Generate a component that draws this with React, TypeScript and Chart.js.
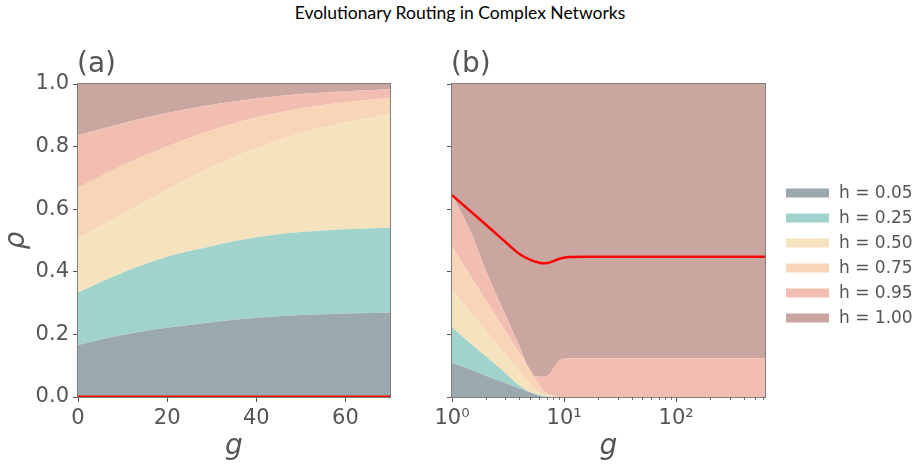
import React, { useEffect, useRef } from 'react';
import { Chart, registerables } from 'chart.js';
Chart.register(...registerables);

// ---------- data ----------
const hLabels = ['h = 0.05', 'h = 0.25', 'h = 0.50', 'h = 0.75', 'h = 0.95', 'h = 1.00'];
const bandColors = ['#9BA9AF', '#A0D3CC', '#F5E3BD', '#F9D5B8', '#F3BEB2', '#C9A6A0'];

// panel (a): g (linear), cumulative upper boundary of each h band
const gA = [0, 10, 20, 30, 40, 50, 60, 70];
const a005 = [0.166, 0.198, 0.221, 0.239, 0.253, 0.262, 0.267, 0.270];
const a025 = [0.334, 0.397, 0.448, 0.482, 0.510, 0.527, 0.536, 0.541];
const a050 = [0.506, 0.585, 0.662, 0.735, 0.795, 0.843, 0.877, 0.903];
const a075 = [0.668, 0.740, 0.800, 0.852, 0.893, 0.922, 0.942, 0.955];
const a095 = [0.836, 0.875, 0.907, 0.934, 0.954, 0.968, 0.977, 0.983];
const a100 = [1, 1, 1, 1, 1, 1, 1, 1];
const aRed = [0, 0, 0, 0, 0, 0, 0, 0];

// panel (b): g (log), cumulative upper boundary of each h band
const gB = [1, 1.5, 2, 3, 4, 5, 5.5, 6, 6.7, 7, 7.5, 8, 9, 10, 11, 15, 30, 100, 300, 620];
const b005 = [0.110, 0.086, 0.068, 0.045, 0.028, 0.014, 0.008, 0.003, 0.001, 0, 0, 0, 0, 0, 0, 0, 0, 0, 0, 0];
const b025 = [0.223, 0.168, 0.130, 0.076, 0.036, 0.015, 0.010, 0.006, 0.003, 0.002, 0.001, 0, 0, 0, 0, 0, 0, 0, 0, 0];
const b050 = [0.342, 0.266, 0.212, 0.135, 0.081, 0.038, 0.024, 0.012, 0.006, 0.004, 0.002, 0.001, 0, 0, 0, 0, 0, 0, 0, 0];
const b075 = [0.480, 0.380, 0.310, 0.210, 0.138, 0.086, 0.060, 0.038, 0.018, 0.012, 0.006, 0.003, 0, 0, 0, 0, 0, 0, 0, 0];
const b095 = [0.645, 0.520, 0.404, 0.262, 0.161, 0.081, 0.066, 0.065, 0.065, 0.066, 0.075, 0.090, 0.115, 0.122, 0.124, 0.124, 0.124, 0.124, 0.124, 0.124];
const b100 = [1, 1, 1, 1, 1, 1, 1, 1, 1, 1, 1, 1, 1, 1, 1, 1, 1, 1, 1, 1];
const bRed = [0.645, 0.590, 0.551, 0.495, 0.457, 0.438, 0.433, 0.429, 0.427, 0.428, 0.430, 0.434, 0.441, 0.445, 0.447, 0.448, 0.448, 0.448, 0.448, 0.448];

const yTicks = [0, 0.2, 0.4, 0.6, 0.8, 1.0];
const xTicksA = [0, 20, 40, 60];

// ---------- styles ----------
const GRAY = '#555555';
const FONT = 'DejaVu Sans';
const tickFont = { family: FONT, size: 21 };
const titleFont = { family: FONT, size: 28, style: 'italic' as const };

const isPow10 = (v: number) => Math.abs(Math.log10(v) - Math.round(Math.log10(v))) < 1e-9;
const sup: Record<string, string> = { '0': '⁰', '1': '¹', '2': '²', '3': '³', '-': '⁻' };

function bands(xs: number[], series: number[][]) {
  return series.map((ys, i) => ({
    label: hLabels[i],
    data: xs.map((x, j) => ({ x, y: ys[j] })),
    backgroundColor: bandColors[i],
    borderColor: 'rgba(0,0,0,0)',
    borderWidth: 0,
    pointRadius: 0,
    fill: i === 0 ? 'origin' : '-1',
    cubicInterpolationMode: 'monotone' as const,
    order: 1,
  }));
}

const framePlugin = {
  id: 'frame',
  beforeDatasetsDraw(chart: any) {
    const { ctx, chartArea: a } = chart;
    ctx.save();
    ctx.strokeStyle = '#7f7f7f';
    ctx.lineWidth = 1;
    ctx.strokeRect(a.left - 0.5, a.top - 0.5, a.right - a.left + 1, a.bottom - a.top + 1);
    ctx.restore();
  },
};

function panelLabel(text: string) {
  return {
    id: 'panelLabel',
    afterDraw(chart: any) {
      const { ctx, chartArea: a } = chart;
      ctx.save();
      ctx.fillStyle = GRAY;
      ctx.font = `28px "${FONT}"`;
      ctx.textAlign = 'left';
      ctx.textBaseline = 'alphabetic';
      ctx.fillText(text, a.left - 1, 72);
      ctx.restore();
    },
  };
}

const minorTicksPlugin = {
  id: 'minorTicks',
  afterDraw(chart: any) {
    const { ctx, chartArea: a } = chart;
    const sx = chart.scales.x;
    ctx.save();
    ctx.strokeStyle = GRAY;
    ctx.lineWidth = 0.8;
    sx.ticks.forEach((t: any) => {
      if (isPow10(t.value)) return;
      const px = Math.round(sx.getPixelForValue(t.value)) + 0.5;
      ctx.beginPath();
      ctx.moveTo(px, a.bottom);
      ctx.lineTo(px, a.bottom + 3);
      ctx.stroke();
    });
    ctx.restore();
  },
};

const legendPlugin = {
  id: 'customLegend',
  afterDraw(chart: any) {
    const { ctx } = chart;
    ctx.save();
    ctx.font = `17px "${FONT}"`;
    ctx.textBaseline = 'middle';
    ctx.textAlign = 'left';
    hLabels.forEach((lab, i) => {
      const yc = 193 + i * 25;
      ctx.fillStyle = bandColors[i];
      ctx.fillRect(366, yc - 4.5, 43, 9);
      ctx.fillStyle = GRAY;
      ctx.fillText(lab, 419, yc + 1);
    });
    ctx.restore();
  },
};

function yAxis(labels: boolean, width: number, withTitle: boolean) {
  return {
    type: 'linear' as const,
    min: 0,
    max: 1,
    afterBuildTicks: (s: any) => { s.ticks = yTicks.map((v) => ({ value: v })); },
    afterFit: (s: any) => { s.width = width; },
    ticks: {
      font: tickFont,
      color: GRAY,
      padding: 4,
      callback: (v: any) => (labels ? Number(v).toFixed(1) : ''),
    },
    grid: { drawOnChartArea: false, tickLength: 5, tickColor: GRAY, tickWidth: 1 },
    border: { display: false },
    title: {
      display: withTitle,
      text: 'ρ',
      font: titleFont,
      color: GRAY,
      padding: { top: 0, bottom: 0 },
    },
  };
}

function xTitle() {
  return { display: true, text: 'g', font: titleFont, color: GRAY, padding: { top: 0, bottom: 1 } };
}

export default function App() {
  const refA = useRef<HTMLCanvasElement>(null);
  const refB = useRef<HTMLCanvasElement>(null);

  useEffect(() => {
    const chartA = new Chart(refA.current!, {
      type: 'line',
      data: {
        datasets: [
          ...bands(gA, [a005, a025, a050, a075, a095, a100]),
          {
            label: 'optimal',
            data: gA.map((x, j) => ({ x, y: aRed[j] })),
            borderColor: '#ff0000',
            borderWidth: 3,
            pointRadius: 0,
            fill: false,
            order: -1,
          } as any,
        ],
      },
      options: {
        animation: false,
        responsive: false,
        devicePixelRatio: 1,
        layout: { padding: { top: 84, right: 30, left: 0, bottom: 0 } },
        plugins: { legend: { display: false }, tooltip: { enabled: false }, title: { display: false } },
        scales: {
          x: {
            type: 'linear',
            min: 0,
            max: 70,
            afterBuildTicks: (s: any) => { s.ticks = xTicksA.map((v) => ({ value: v })); },
            afterFit: (s: any) => { s.height = 68; },
            ticks: { font: tickFont, color: GRAY, padding: 4, maxRotation: 0, autoSkip: false },
            grid: { drawOnChartArea: false, tickLength: 5, tickColor: GRAY, tickWidth: 1 },
            border: { display: false },
            title: xTitle(),
          },
          y: yAxis(true, 78, true),
        },
      } as any,
      plugins: [framePlugin, panelLabel('(a)')],
    });

    const chartB = new Chart(refB.current!, {
      type: 'line',
      data: {
        datasets: [
          ...bands(gB, [b005, b025, b050, b075, b095, b100]),
          {
            label: 'optimal',
            data: gB.map((x, j) => ({ x, y: bRed[j] })),
            borderColor: '#ff0000',
            borderWidth: 2.5,
            pointRadius: 0,
            fill: false,
            cubicInterpolationMode: 'monotone',
            order: -1,
          } as any,
        ],
      },
      options: {
        animation: false,
        responsive: false,
        devicePixelRatio: 1,
        layout: { padding: { top: 84, right: 153, left: 0, bottom: 0 } },
        plugins: { legend: { display: false }, tooltip: { enabled: false }, title: { display: false } },
        scales: {
          x: {
            type: 'logarithmic',
            min: 1,
            max: 620,
            afterBuildTicks: (s: any) => {
              s.ticks = s.ticks.filter((t: any) => t.value >= 1 && t.value <= 600 &&
                Math.abs(t.value / Math.pow(10, Math.floor(Math.log10(t.value) + 1e-9)) -
                  Math.round(t.value / Math.pow(10, Math.floor(Math.log10(t.value) + 1e-9)))) < 1e-6);
            },
            afterFit: (s: any) => { s.height = 68; },
            ticks: {
              font: tickFont,
              color: GRAY,
              padding: 4,
              maxRotation: 0,
              autoSkip: false,
              callback: (v: any) => {
                const n = Number(v);
                if (!isPow10(n)) return '';
                const e = String(Math.round(Math.log10(n)));
                return '10' + e.split('').map((c) => sup[c]).join('');
              },
            },
            grid: {
              drawOnChartArea: false,
              tickLength: 5,
              tickWidth: 1,
              tickColor: (ctx: any) => (ctx.tick && isPow10(ctx.tick.value) ? GRAY : 'rgba(0,0,0,0)'),
            },
            border: { display: false },
            title: xTitle(),
          },
          y: yAxis(false, 32, false),
        },
      } as any,
      plugins: [framePlugin, panelLabel('(b)'), minorTicksPlugin, legendPlugin],
    });

    return () => {
      chartA.destroy();
      chartB.destroy();
    };
  }, []);

  return (
    <div style={{ position: 'absolute', left: 0, top: 0, width: 918, height: 465, background: '#fff', overflow: 'hidden' }}>
      <div
        style={{
          position: 'absolute',
          left: 0,
          top: 3,
          width: 920,
          textAlign: 'center',
          fontFamily: 'Lato',
          fontSize: 17.5,
          lineHeight: '20px',
          color: '#000',
        }}
      >
        Evolutionary Routing in Complex Networks
      </div>
      <canvas ref={refA} width={420} height={465} style={{ position: 'absolute', left: 0, top: 0 }} />
      <canvas ref={refB} width={498} height={465} style={{ position: 'absolute', left: 420, top: 0 }} />
    </div>
  );
}
